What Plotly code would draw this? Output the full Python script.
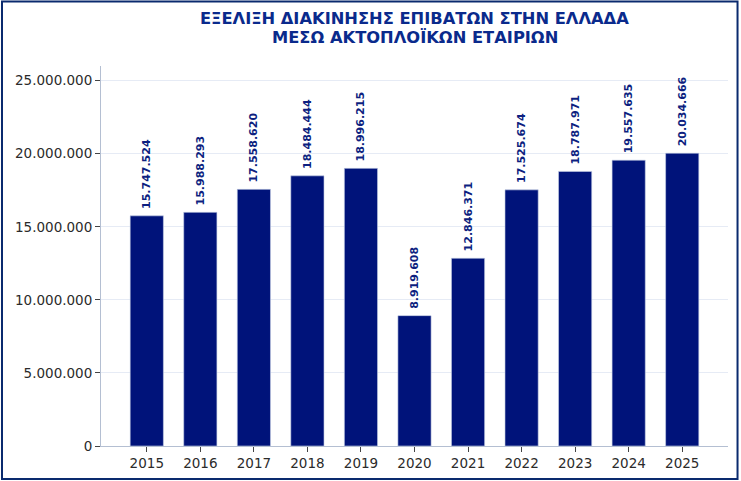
"""Passenger traffic in Greece via coastal shipping companies."""

import plotly.graph_objects as go

YEARS = ["2015", "2016", "2017", "2018", "2019", "2020", "2021", "2022", "2023", "2024", "2025"]
PASSENGERS = [
    15747524, 15988293, 17558620, 18484444, 18996215,
    8919608, 12846371, 17525674, 18787971, 19557635, 20034666,
]
Y_TICKS = [0, 5000000, 10000000, 15000000, 20000000, 25000000]

TITLE_LINES = ["ΕΞΕΛΙΞΗ ΔΙΑΚΙΝΗΣΗΣ ΕΠΙΒΑΤΩΝ ΣΤΗΝ ΕΛΛΑΔΑ", "ΜΕΣΩ ΑΚΤΟΠΛΟΪΚΩΝ ΕΤΑΙΡΙΩΝ"]

NAVY = "#00137a"
AXIS = "#b4bfd2"
GRID = "#e6ebf5"
FONT = "DejaVu Sans"

fig = go.Figure()
fig.add_trace(
    go.Bar(
        x=YEARS,
        y=PASSENGERS,
        width=0.62,
        marker=dict(color=NAVY, line=dict(color="#c8d2e6", width=0.6)),
        # leading nbsp gives a bit more room between bar and label
        texttemplate="<b>\u00a0%{y:,.0f}</b>",
        textposition="outside",
        textangle=-90,
        constraintext="none",
        textfont=dict(family=FONT, size=11, color="#0d1f80"),
        cliponaxis=False,
        hoverinfo="skip",
    )
)

fig.update_layout(
    width=741,
    height=481,
    separators=",.",
    paper_bgcolor="white",
    plot_bgcolor="white",
    margin=dict(l=101, r=13, t=66, b=35, autoexpand=False),
    font=dict(family=FONT, size=13.5, color="#2b2b2b"),
    showlegend=False,
)

# title: one annotation per line to control the line spacing
for line, ypos in zip(TITLE_LINES, [1.1245, 1.0745]):
    fig.add_annotation(
        text=f"<b>{line}</b>",
        xref="paper",
        yref="paper",
        x=0.5,
        y=ypos,
        xanchor="center",
        yanchor="middle",
        showarrow=False,
        font=dict(family=FONT, size=16.3, color="#0a2a8c"),
    )

fig.update_xaxes(
    type="category",
    range=[-0.855, 10.855],
    showline=True,
    linecolor=AXIS,
    linewidth=1,
    ticks="outside",
    tickcolor="#444",
    ticklen=5,
    showgrid=False,
    tickfont=dict(size=13.5),
)
fig.update_yaxes(
    range=[0, 26000000],
    tickvals=Y_TICKS,
    tickformat=",.0f",
    showline=True,
    linecolor=AXIS,
    linewidth=1,
    ticks="outside",
    tickcolor="#444",
    ticklen=5,
    gridcolor=GRID,
    gridwidth=1,
    zeroline=False,
    tickfont=dict(size=13.5),
)

# frame around the whole picture
fig.add_shape(
    type="rect",
    xref="paper",
    yref="paper",
    x0=-0.1579,
    x1=1.0152,
    y0=-0.0868,
    y1=1.1697,
    line=dict(color="#0a2a6e", width=2),
    layer="above",
)

fig.write_html(
    "out.html",
    config={"displayModeBar": False},
    post_script="document.body.style.margin = '0px';",
)
